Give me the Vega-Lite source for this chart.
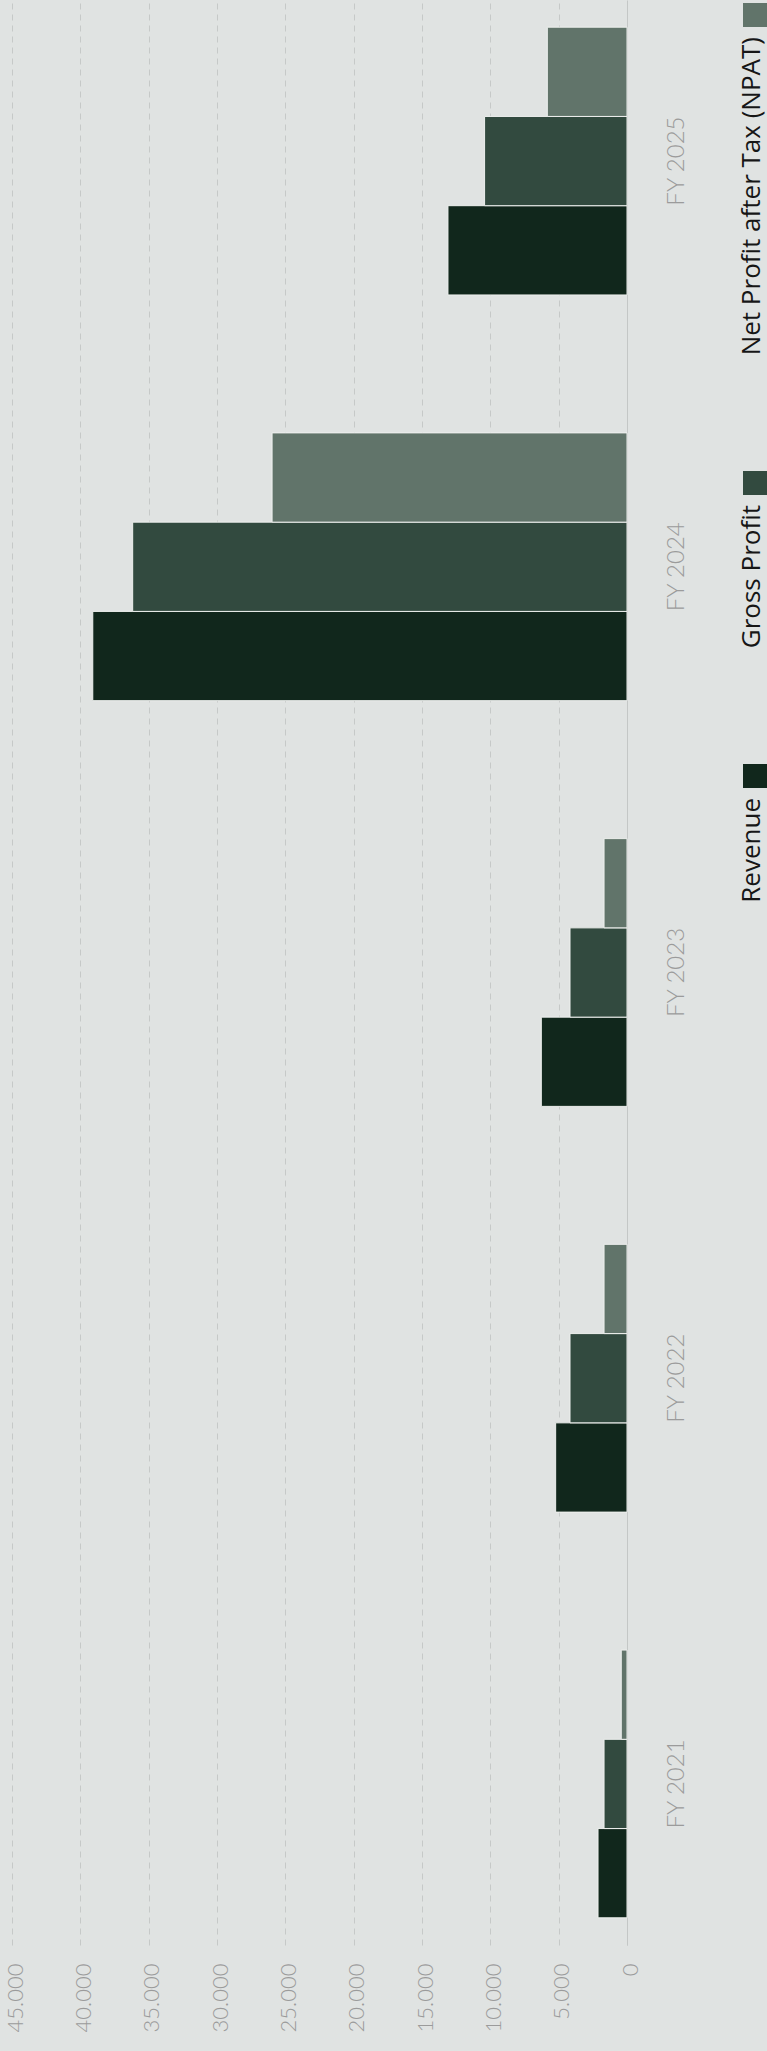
{
  "$schema": "https://vega.github.io/schema/vega-lite/v6.json",
  "width": 615,
  "height": 1945,
  "autosize": "none",
  "padding": {"left": 12, "top": 0, "right": 140, "bottom": 106},
  "background": "#e0e3e2",
  "config": {"view": {"stroke": null}},
  "data": {
    "values": [
      {"year": "FY 2021", "metric": "Revenue", "value": 2120},
      {"year": "FY 2021", "metric": "Gross Profit", "value": 1680},
      {"year": "FY 2021", "metric": "Net Profit after Tax (NPAT)", "value": 420},
      {"year": "FY 2022", "metric": "Revenue", "value": 5220},
      {"year": "FY 2022", "metric": "Gross Profit", "value": 4170},
      {"year": "FY 2022", "metric": "Net Profit after Tax (NPAT)", "value": 1680},
      {"year": "FY 2023", "metric": "Revenue", "value": 6270},
      {"year": "FY 2023", "metric": "Gross Profit", "value": 4170},
      {"year": "FY 2023", "metric": "Net Profit after Tax (NPAT)", "value": 1680},
      {"year": "FY 2024", "metric": "Revenue", "value": 39090},
      {"year": "FY 2024", "metric": "Gross Profit", "value": 36170},
      {"year": "FY 2024", "metric": "Net Profit after Tax (NPAT)", "value": 25970},
      {"year": "FY 2025", "metric": "Revenue", "value": 13100},
      {"year": "FY 2025", "metric": "Gross Profit", "value": 10420},
      {"year": "FY 2025", "metric": "Net Profit after Tax (NPAT)", "value": 5830}
    ]
  },
  "mark": {"type": "bar", "stroke": "#eef0ee", "strokeWidth": 1},
  "encoding": {
    "y": {
      "field": "year",
      "type": "nominal",
      "sort": "descending",
      "scale": {"paddingInner": 0.34, "paddingOuter": 0.067},
      "axis": {
        "orient": "right",
        "title": null,
        "ticks": false,
        "domain": true,
        "domainColor": "#c4c7c6",
        "labelAngle": 270,
        "labelAlign": "center",
        "labelBaseline": "top",
        "labelPadding": 37,
        "labelColor": "#9b9b9b",
        "labelFont": "Lato",
        "labelFontWeight": 300,
        "labelFontSize": 24
      }
    },
    "yOffset": {
      "field": "metric",
      "type": "nominal",
      "sort": ["Net Profit after Tax (NPAT)", "Gross Profit", "Revenue"]
    },
    "x": {
      "field": "value",
      "type": "quantitative",
      "scale": {"domain": [0, 45000], "reverse": true, "nice": false},
      "axis": {
        "orient": "bottom",
        "title": null,
        "values": [0, 5000, 10000, 15000, 20000, 25000, 30000, 35000, 40000, 45000],
        "labelExpr": "replace(format(datum.value, ','), ',', '.')",
        "labelAngle": 270,
        "labelAlign": "right",
        "labelBaseline": "middle",
        "labelOffset": 3,
        "labelPadding": 18,
        "ticks": false,
        "domain": false,
        "grid": true,
        "gridDash": [6, 5],
        "gridColor": "#c6c9c8",
        "labelColor": "#9b9b9b",
        "labelFont": "Lato",
        "labelFontWeight": 300,
        "labelFontSize": 22
      }
    },
    "color": {
      "field": "metric",
      "type": "nominal",
      "scale": {
        "domain": ["Net Profit after Tax (NPAT)", "Gross Profit", "Revenue"],
        "range": ["#61746a", "#324a3f", "#11271c"]
      },
      "legend": {
        "orient": "none",
        "legendX": 731,
        "legendY": 3,
        "title": null,
        "symbolType": "square",
        "symbolSize": 576,
        "symbolStrokeWidth": 0,
        "labelFont": "Open Sans",
        "labelFontSize": 26,
        "labelColor": "#161616",
        "labelLimit": 1000,
        "rowPadding": 115,
        "encoding": {
          "symbols": {"x": {"value": 12}, "y": {"value": 12}},
          "labels": {
            "angle": {"value": -90},
            "align": {"value": "right"},
            "baseline": {"value": "alphabetic"},
            "x": {"value": 17},
            "y": {"value": 34}
          }
        }
      }
    }
  }
}
